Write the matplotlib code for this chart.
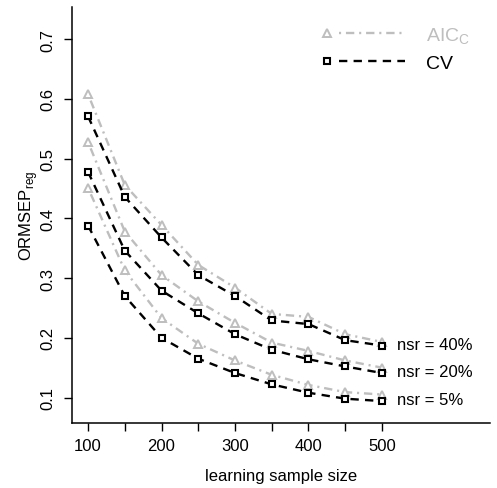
import matplotlib
matplotlib.use("Agg")
import matplotlib.pyplot as plt
from matplotlib.legend_handler import HandlerLine2D
from matplotlib.lines import Line2D

plt.rcParams['font.family'] = ['Liberation Sans', 'DejaVu Sans']
plt.rcParams['mathtext.fontset'] = 'custom'
plt.rcParams['mathtext.rm'] = 'Liberation Sans'

sizes = [100, 150, 200, 250, 300, 350, 400, 450, 500]
nsr_labels = ["nsr = 40%", "nsr = 20%", "nsr = 5%"]
aic = [
    [0.608, 0.456, 0.389, 0.322, 0.284, 0.240, 0.235, 0.206, 0.193],
    [0.528, 0.378, 0.305, 0.261, 0.225, 0.192, 0.178, 0.162, 0.150],
    [0.451, 0.313, 0.233, 0.190, 0.162, 0.138, 0.121, 0.109, 0.105],
]
cv = [
    [0.571, 0.436, 0.368, 0.305, 0.270, 0.229, 0.223, 0.196, 0.187],
    [0.478, 0.346, 0.279, 0.241, 0.206, 0.180, 0.164, 0.152, 0.141],
    [0.388, 0.270, 0.200, 0.165, 0.141, 0.122, 0.108, 0.098, 0.094],
]
xticks = [100, 150, 200, 250, 300, 350, 400, 450, 500]
xticklabels = ["100", "", "200", "", "300", "", "400", "", "500"]
yticks = [0.1, 0.2, 0.3, 0.4, 0.5, 0.6, 0.7]

GRAY = "#bebebe"
LW = 1.7

fig = plt.figure(figsize=(4.97, 4.89), dpi=100)
ax = fig.add_axes([72.3/497, 65/489, (490-72.3)/497, (424-8)/489])

aic_dash = (1.5/LW, 3.5/LW, 6/LW, 3.5/LW)
cv_dash = (6/LW, 4.5/LW)

for a, c in zip(aic, cv):
    ax.plot(sizes, a, color=GRAY, lw=LW, dashes=aic_dash, marker='^',
            ms=6, mfc='white', mec=GRAY, mew=1.4)
    ax.plot(sizes, c, color='black', lw=LW, dashes=cv_dash, marker='s',
            ms=5, mfc='white', mec='black', mew=1.5)

for lab, c in zip(nsr_labels, cv):
    ax.annotate(lab, xy=(sizes[-1], c[-1]), xytext=(11, 1), textcoords='offset points',
                ha='left', va='center', fontsize=12)

ax.set_xlim(78.6, 647)
ax.set_ylim(0.0573, 0.754)
ax.set_xticks(xticks)
ax.set_xticklabels(xticklabels, fontsize=12)
ax.set_yticks(yticks)
ax.set_yticklabels([f"{v:.1f}" for v in yticks], fontsize=12, rotation=90, va='center')
ax.tick_params(axis='x', length=5.5, width=1, pad=5)
ax.tick_params(axis='y', length=5.5, width=1, pad=7)
for s in ['top', 'right']:
    ax.spines[s].set_visible(False)
for s in ['left', 'bottom']:
    ax.spines[s].set_linewidth(1.1)

ax.set_xlabel("learning sample size", fontsize=12, labelpad=11)
ax.set_ylabel(r"ORMSEP$_\mathregular{reg}$", fontsize=12, labelpad=0)


class MarkerLeftHandler(HandlerLine2D):
    def create_artists(self, legend, orig_handle, xdescent, ydescent, width, height, fontsize, trans):
        y = height / 2 - ydescent
        line = Line2D([-xdescent + 0.15 * width, -xdescent + width], [y, y])
        self.update_prop(line, orig_handle, legend)
        line.set_marker('None')
        mk = Line2D([-xdescent], [y])
        self.update_prop(mk, orig_handle, legend)
        mk.set_linestyle('None')
        line.set_transform(trans)
        mk.set_transform(trans)
        return [line, mk]


h1 = Line2D([], [], color=GRAY, lw=LW, dashes=aic_dash, marker='^', ms=6,
            mfc='white', mec=GRAY, mew=1.4)
h2 = Line2D([], [], color='black', lw=LW, dashes=cv_dash, marker='s', ms=5,
            mfc='white', mec='black', mew=1.5)
leg = ax.legend([h1, h2], [r"AIC$_\mathregular{C}$", "CV"], loc='upper left',
                bbox_to_anchor=(0.61, 0.956), frameon=False, fontsize=14,
                handlelength=4.0, handletextpad=1.1, labelspacing=0.45,
                borderpad=0, borderaxespad=0,
                handler_map={h1: MarkerLeftHandler(), h2: MarkerLeftHandler()})
leg.get_texts()[0].set_color(GRAY)

fig.savefig("out.png", dpi=100)
